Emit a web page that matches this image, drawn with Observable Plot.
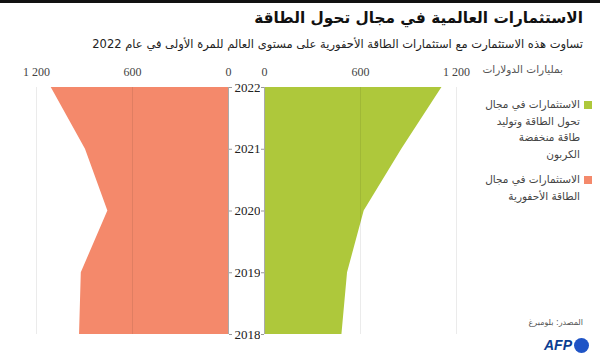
<!DOCTYPE html>
<html><head><meta charset="utf-8">
<script src="https://cdn.jsdelivr.net/npm/d3@7"></script>
<script src="https://cdn.jsdelivr.net/npm/@observablehq/plot@0.6"></script>
<style>
body{margin:0;background:#fff;width:600px;height:359px;overflow:hidden;position:relative;font-family:"DejaVu Sans",sans-serif;}
.abs{position:absolute;}
#topbar{left:0;top:0;width:600px;height:3px;background:#111;}
#title{right:17px;top:9px;font-size:15.3px;font-weight:bold;color:#111;direction:rtl;white-space:nowrap;}
#subtitle{right:17px;top:37px;font-size:11.5px;color:#222;direction:rtl;white-space:nowrap;}
#unit{right:37px;top:63px;font-size:10.5px;color:#555;direction:rtl;white-space:nowrap;}
.leg{right:20px;font-size:10.5px;color:#444;direction:rtl;line-height:16.5px;text-align:right;}
.sw{width:8px;height:8px;position:absolute;right:-12px;top:5px;}
#source{right:17px;top:318px;font-size:8px;color:#555;direction:rtl;white-space:nowrap;}
#afp{right:11px;top:337px;font-size:14px;font-weight:900;font-style:italic;color:#0b3d91;font-family:"Liberation Sans",Arial,sans-serif;display:flex;align-items:center;gap:2px;}
#afp span.dot{display:inline-block;width:15px;height:15px;border-radius:50%;background:#1f54c6;}
</style></head>
<body>
<div id="topbar" class="abs"></div>
<div id="title" class="abs">الاستثمارات العالمية في مجال تحول الطاقة</div>
<div id="subtitle" class="abs">تساوت هذه الاستثمارت مع استثمارات الطاقة الأحفورية على مستوى العالم للمرة الأولى في عام 2022</div>
<div id="unit" class="abs">بمليارات الدولارات</div>
<div id="leg1" class="abs leg" style="top:96px;"><div class="sw" style="background:#AEC83B"></div>الاستثمارات في مجال<br>تحول الطاقة وتوليد<br>طاقة منخفضة<br>الكربون</div>
<div id="leg2" class="abs leg" style="top:171px;"><div class="sw" style="background:#F4896B"></div>الاستثمارات في مجال<br>الطاقة الأحفورية</div>
<div id="source" class="abs">المصدر: بلومبرغ</div>
<div id="afp" class="abs">AFP<span class="dot"></span></div>
<div id="left" class="abs" style="left:0;top:60px;"></div>
<div id="right" class="abs" style="left:240px;top:60px;"></div>
<script>
const years = [2018, 2019, 2020, 2021, 2022];
const fossil = [931, 920, 754, 894, 1108];
const transition = [484, 519, 623, 858, 1109];
const xTicks = [0, 600, 1200];
const fossilColor = "#F4896B";
const transitionColor = "#AEC83B";

const fossilData = years.map((y, i) => ({year: y, value: fossil[i]}));
const transData = years.map((y, i) => ({year: y, value: transition[i]}));
const fmt = d => d3.format(",")(d).replace(",", " ");

const common = {
  height: 285, marginTop: 27, marginBottom: 11,
  y: {domain: [2018, 2022], label: null},
  style: {fontFamily: "'Liberation Serif', 'DejaVu Serif', serif", fontSize: "12px", color: "#333", background: "transparent"}
};

const left = Plot.plot({
  ...common,
  width: 260, marginLeft: 36, marginRight: 32,
  x: {domain: [0, 1200], reverse: true, label: null},
  marks: [
    Plot.areaX(fossilData, {y: "year", x: "value", fill: fossilColor}),
    Plot.gridX(xTicks, {stroke: "#000", strokeOpacity: 0.08}),
    Plot.ruleX([0], {stroke: "#aaa"}),
    Plot.axisX(xTicks, {anchor: "top", label: null, tickSize: 0, tickPadding: 12, tickFormat: fmt, fontSize: 12, fill: "#444"}),
    Plot.axisY(years, {anchor: "right", label: null, tickSize: 3, tickPadding: 3, tickFormat: d => String(d), fontSize: 13, fill: "#222", stroke: "#999"})
  ]
});
document.getElementById("left").appendChild(left);

const right = Plot.plot({
  ...common,
  width: 240, marginLeft: 24, marginRight: 24,
  x: {domain: [0, 1200], label: null},
  marks: [
    Plot.areaX(transData, {y: "year", x: "value", fill: transitionColor}),
    Plot.gridX(xTicks, {stroke: "#000", strokeOpacity: 0.08}),
    Plot.ruleX([0], {stroke: "#aaa"}),
    Plot.axisX(xTicks, {anchor: "top", label: null, tickSize: 0, tickPadding: 12, tickFormat: fmt, fontSize: 12, fill: "#444"}),
    Plot.axisY(years, {anchor: "left", label: null, tickSize: 3, tickFormat: () => "", stroke: "#999"})
  ]
});
document.getElementById("right").appendChild(right);
</script>
</body></html>
